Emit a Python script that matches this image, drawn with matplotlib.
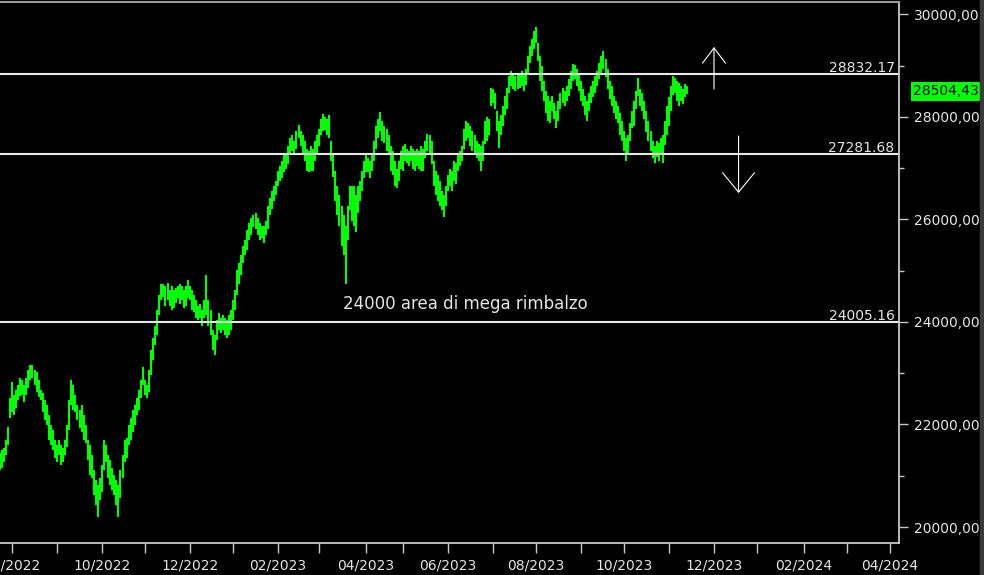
import numpy as np
import pandas as pd
import matplotlib
matplotlib.use('Agg')
import matplotlib.pyplot as plt
from matplotlib.transforms import blended_transform_factory
from matplotlib.patches import Rectangle

# daily high / low (one bar per trading day, 22/07/2022 -> 14/11/2023)
low = [21110, 21150, 21270, 21400, 21600, 22120, 22240, 22180, 22320, 22470,
       22550, 22570, 22430, 22570, 22710, 22860, 22900, 22770, 22630, 22530, 22470,
       22240, 22080, 21990, 21690, 21600, 21500, 21340, 21270, 21400,
       21210, 21270, 21400, 21560, 21890, 22380, 22280, 22240, 22080, 21930,
       21850, 21690, 21640, 21310, 21010, 20950, 20620, 20430, 20200, 20530,
       20680, 21110, 21270, 20950, 20820, 20720, 20620, 20430, 20200, 20560,
       20950, 21270, 21340,
       21600, 21690, 21850, 21990, 22180, 22280,
       22510, 22770, 22570, 22510, 22630, 22960, 23250, 23550, 23740, 24130,
       24420, 24480, 24320, 24420, 24320, 24230, 24270, 24380, 24460, 24360,
       24420, 24270, 24320, 24460, 24420, 24230, 24190, 24070, 24030, 24070,
       23930, 24070, 24130, 23930, 23740,
       23450, 23350, 23640, 23840,
       23780, 23840, 23740, 23680, 23740, 23840, 24030, 24230, 24520, 24750,
       24910, 25160, 25300, 25400, 25590, 25690, 25860, 25820, 25690, 25590,
       25630, 25550, 25690, 25820, 26080, 26210, 26370, 26470, 26660, 26760,
       26800, 26920, 26990, 27090, 27250, 27340, 27250, 27380,
       27580, 27440, 27250, 27150, 26950, 26920, 26950, 26950, 27150, 27250, 27440,
       27640, 27730, 27750, 27640, 27580, 27150, 26820, 26370, 26080, 25880,
       25490, 25300, 24750, 25590, 26180, 25980, 25880, 25750, 26130, 26370,
       26560, 26800, 26920, 26920, 26800, 26950, 27150, 27380, 27580, 27730,
       27540, 27500, 27340, 27250, 26950, 26860, 26660, 26620, 26760,
       26990, 26950, 27150, 27110, 27050, 27150, 26990, 26950, 27050, 26990,
       26950, 26950, 27190, 27340, 27300, 27090, 26660, 26470, 26370, 26270,
       26180, 26040, 26270, 26560, 26660, 26560, 26760, 26700, 26950, 27050,
       27150, 27380, 27540,
       27580, 27440, 27340, 27250, 27190, 27150,
       26950, 27150, 27480, 27540, 27640, 28220, 28280, 28160, 27730, 27400,
       27640, 27830, 28030, 28160, 28470, 28610, 28550, 28510, 28550, 28570,
       28610, 28510, 28630, 28860, 29060, 29190, 29330, 29450, 29100, 28710,
       28510, 28320, 28080, 27930, 27890,
       28120, 27970, 27790, 27930,
       28160, 28280, 28220, 28320, 28410, 28550, 28710, 28740, 28610, 28510,
       28320, 28220, 28030, 27930, 28120, 28280, 28380, 28470, 28610, 28750,
       28860, 28940, 28780, 28550, 28360, 28220, 28080, 27970, 27890, 27640,
       27540, 27340, 27150, 27250, 27540, 27790, 27830, 28160, 28410,
       28220, 28120, 27970, 27700, 27540, 27340, 27190, 27110, 27210, 27150,
       27250, 27110, 27460, 27640, 27830, 28120, 28420, 28470, 28320, 28220,
       28320, 28260, 28380, 28440]

high = [21440, 21500, 21540, 21700, 21950, 22510, 22820, 22570, 22670, 22770,
        22900, 22860, 22770, 22900, 23060, 23160, 23160, 23060, 23020, 22860, 22670,
        22610, 22470, 22380, 22180, 21990, 21890, 21690, 21600, 21690,
        21600, 21540, 21690, 21990, 22470, 22860, 22770, 22570, 22380, 22280,
        22380, 22180, 21990, 21690, 21600, 21400, 21110, 20920, 20820, 20950,
        21210, 21690, 21600, 21400, 21310, 21150, 21010, 20920, 20820, 21110,
        21400, 21690, 21730,
        21990, 22120, 22280, 22380, 22510, 22670,
        22860, 23120, 22860, 22770, 23060, 23450, 23680, 23930, 24230, 24520,
        24750, 24750, 24710, 24770, 24620, 24710, 24620, 24660, 24710, 24750,
        24710, 24620, 24710, 24810, 24710, 24620, 24520, 24420, 24320, 24360,
        24230, 24420, 24910, 24420, 24230,
        23840, 23740, 24030, 24170,
        24070, 24130, 24070, 24030, 24130, 24230, 24420, 24620, 25010, 25160,
        25300, 25490, 25590, 25790, 25940, 26020, 26080, 26120, 26020, 25940,
        25880, 25880, 25980, 26270, 26410, 26560, 26660, 26760, 26950, 27050,
        27150, 27250, 27250, 27440, 27580, 27640, 27540, 27730,
        27850, 27730, 27640, 27540, 27380, 27340, 27440, 27380, 27540, 27640, 27770,
        27970, 28060, 27990, 27970, 28030, 27540, 27250, 26950, 26660, 26470,
        26270, 26080, 25880, 26270, 26660, 26660, 26660, 26470, 26660, 26760,
        26950, 27150, 27250, 27190, 27150, 27300, 27540, 27830, 27970, 28100,
        27930, 27830, 27770, 27640, 27440, 27340, 27150, 26990, 27150,
        27340, 27440, 27480, 27380, 27340, 27440, 27380, 27340, 27380, 27340,
        27440, 27380, 27540, 27670, 27640, 27540, 27150, 26950, 26860, 26760,
        26560, 26470, 26660, 26860, 26990, 26950, 27150, 27110, 27250, 27340,
        27440, 27770, 27930,
        27890, 27830, 27730, 27640, 27540, 27480,
        27440, 27540, 27930, 27990, 27970, 28570, 28550, 28470, 28120, 27930,
        28030, 28220, 28410, 28570, 28800, 28900, 28840, 28800, 28860, 28820,
        28900, 28860, 28940, 29190, 29390, 29530, 29680, 29760, 29450, 29190,
        29000, 28710, 28510, 28410, 28320,
        28410, 28280, 28120, 28320,
        28470, 28570, 28510, 28610, 28740, 28900, 29040, 29020, 28940, 28860,
        28710, 28550, 28410, 28320, 28470, 28610, 28710, 28800, 28900, 29060,
        29190, 29290, 29140, 28940, 28710, 28610, 28410, 28320, 28220, 28080,
        27930, 27730, 27580, 27640, 27890, 28120, 28320, 28510, 28760,
        28550, 28470, 28320, 28120, 27930, 27730, 27540, 27440, 27540, 27500,
        27580, 27640, 27930, 28220, 28380, 28610, 28800, 28760, 28710, 28670,
        28610, 28550, 28650, 28610]

levels = [28832.17, 27281.68, 24005.16]
level_labels = ['28832.17', '27281.68', '24005.16']
last_price = 28504.43
y_major = [20000, 22000, 24000, 26000, 28000, 30000]
y_minor = [21000, 23000, 25000, 27000, 29000]
note_text = '24000 area di mega rimbalzo'
note_xy = (227.5, 24350)
arrow_up = ((349, 28545), (349, 29365))      # tail, tip
arrow_down = ((361, 27628), (361, 26516))

holidays = ['2022-08-15', '2022-12-26', '2023-04-07', '2023-04-10', '2023-05-01', '2023-08-15']
days = pd.bdate_range('2022-07-22', '2023-11-14')
days = days[~days.isin(pd.to_datetime(holidays))]
cal = days.append(pd.bdate_range('2023-11-15', '2024-04-30'))

GREEN = '#00ff00'
AXC = '#c8c8c8'
TXT = '#e6e6e6'
plt.rcParams['font.family'] = 'DejaVu Sans'

fig = plt.figure(figsize=(9.84, 5.75), dpi=100, facecolor='black')
ax = fig.add_axes([0, 32 / 575, 899 / 984, 541 / 575])
ax.set_facecolor('black')

idx = np.arange(len(low))
ax.vlines(idx, low, high, color=GREEN, lw=1.5)

for lv, lab in zip(levels, level_labels):
    ax.axhline(lv, color='#e8e8e8', lw=1.5)
    ax.annotate(lab, xy=(0.995, lv), xycoords=blended_transform_factory(ax.transAxes, ax.transData),
                xytext=(0, 1.5), textcoords='offset points', ha='right', va='baseline',
                color=TXT, fontsize=10)

ax.text(note_xy[0], note_xy[1], note_text, color=TXT, fontsize=12, ha='center', va='center')

for tail, tip in (arrow_up, arrow_down):
    big = tail[1] > tip[1]
    style = '->,head_length=%s,head_width=%s' % ((14, 11.5) if big else (11, 8.3))
    ax.annotate('', xy=tip, xytext=tail,
                arrowprops=dict(arrowstyle=style, color='white', lw=0.8,
                                shrinkA=0, shrinkB=0, mutation_scale=1))

# current price box on the right scale
ax.text(1.0158, last_price, '{:.2f}'.format(last_price).replace('.', ','),
        transform=blended_transform_factory(ax.transAxes, ax.transData),
        ha='left', va='center', color='black', fontsize=10,
        bbox=dict(boxstyle='square,pad=0.18', fc=GREEN, ec='none'))

ax.set_xlim(0.137, 439.4)
ax.set_ylim(19688, 30243)

# month ticks on first trading day of each month
month = cal.month.values
starts = np.where(month[1:] != month[:-1])[0] + 1
ax.set_xticks(starts)
ax.set_xticklabels([cal[i].strftime('%m/%Y') if cal[i].month % 2 == 0 else '' for i in starts])

ax.yaxis.tick_right()
ax.set_yticks(y_major)
ax.set_yticklabels(['{:.2f}'.format(v).replace('.', ',') for v in y_major])
ax.set_yticks(y_minor, minor=True)

ax.tick_params(axis='x', colors=AXC, labelcolor=TXT, direction='out', length=7, width=1,
               pad=4, labelsize=10)
ax.tick_params(axis='y', which='major', colors=AXC, labelcolor=TXT, direction='out', length=6.5,
               width=1, pad=4.5, labelsize=10)
ax.tick_params(axis='y', which='minor', colors=AXC, direction='out', length=3.5, width=1)

ax.spines['left'].set_visible(False)
for s in ('right', 'bottom'):
    ax.spines[s].set_color(AXC)
    ax.spines[s].set_linewidth(1.3)
ax.spines['top'].set_color('#9a9a9a')
ax.spines['top'].set_linewidth(1.5)

fig.patches.append(Rectangle((980 / 984, 0), 4 / 984, 1, transform=fig.transFigure,
                             color='#3a3a3a', zorder=0))

fig.savefig('out.png', dpi=100, facecolor='black')
